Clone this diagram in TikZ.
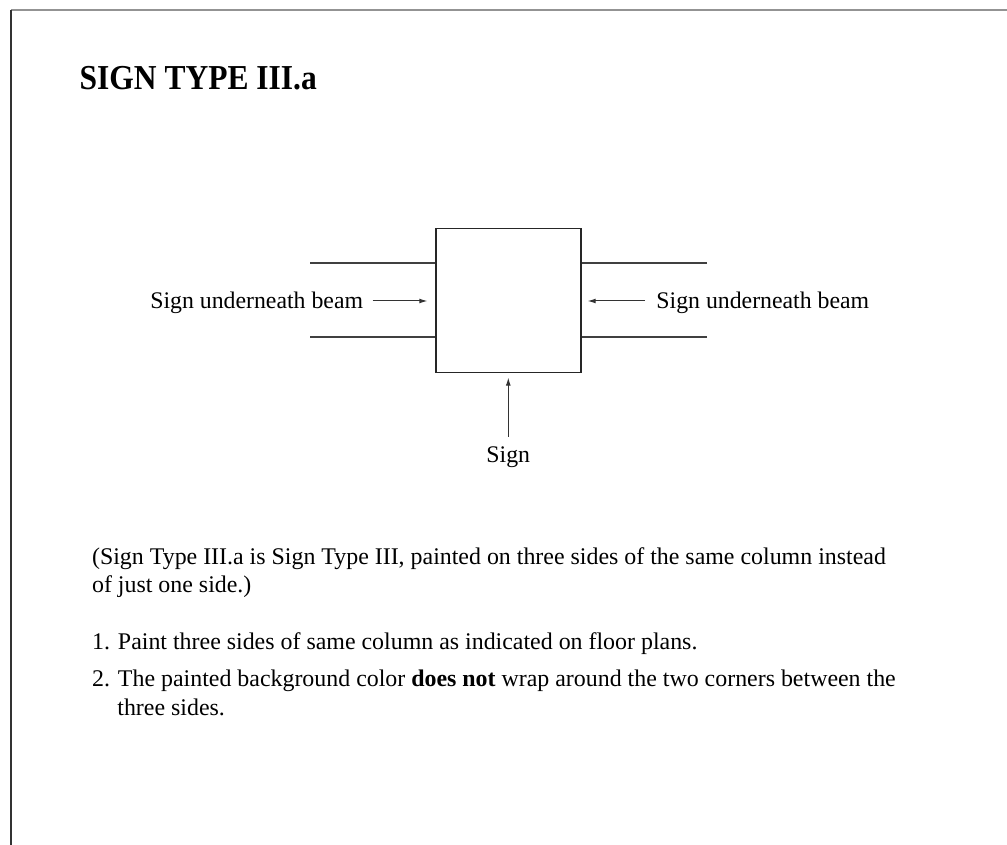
\documentclass[tikz,border=0pt]{standalone}
\usepackage{fontspec}
\setmainfont{Liberation Serif}
\usetikzlibrary{arrows.meta,positioning}

\begin{document}
\begin{tikzpicture}[x=0.5pt,y=-0.5pt,
  lbl/.style={font=\fontsize{11.9}{14}\selectfont,inner sep=0pt},
  txt/.style={font=\fontsize{11.95}{14}\selectfont,inner sep=0pt,anchor=base west},
  beam/.style={draw=black!75,line width=0.6pt},
  arr/.style={draw=black!80,line width=0.5pt,-{Latex[length=4pt,width=2.4pt]}}
]
\useasboundingbox (0,0) rectangle (1007,845);
% frame
\draw[gray!85,line width=1pt] (11,10.5) -- (1007,10.5);
\draw[black!80,line width=0.6pt] (11,10) -- (11,845);

\node[txt] (title) at (79.3,90) {\scalebox{0.9}[1]{\fontsize{17.5}{20}\selectfont\bfseries SIGN TYPE III.a}};

% column
\node[draw=black!85,line width=0.6pt,minimum width=72.5pt,minimum height=72pt,inner sep=0pt] (col) at (508.5,300.3) {};

% beams
\coordinate (bl1) at (310,263); \draw[beam] (bl1) -- (col.west |- bl1);
\coordinate (bl2) at (310,337); \draw[beam] (bl2) -- (col.west |- bl2);
\coordinate (br1) at (707,263); \draw[beam] (br1) -- (col.east |- br1);
\coordinate (br2) at (707,337); \draw[beam] (br2) -- (col.east |- br2);

% labels
\node[lbl,anchor=base east] (signL) at (363.5,309) {Sign underneath beam};
\coordinate (aL) at ([yshift=4pt]signL.base east);
\draw[arr,shorten <=4.5pt,shorten >=4pt] (aL) -- (col.west |- aL);
\node[lbl,anchor=base west] (signR) at (656,309) {Sign underneath beam};
\coordinate (aR) at ([yshift=4pt]signR.base west);
\draw[arr,shorten <=5.5pt,shorten >=3pt] (aR) -- (col.east |- aR);
\node[lbl,anchor=base] (sign) at (508.3,462) {Sign};
\draw[arr,shorten <=4.5pt,shorten >=2.3pt] (sign.north) -- (sign.north |- col.south);

% notes
\node[txt] (note1) at (91.7,564) {(Sign Type III.a is Sign Type III, painted on three sides of the same column instead};
\node[txt] (note2) at (91.7,592.5) {of just one side.)};
\node[txt] (item1) at (91.7,649.5) {1. Paint three sides of same column as indicated on floor plans.};
\node[txt] (item2) at (91.7,686) {2. The painted background color \textbf{does not} wrap around the two corners between the};
\node[txt] (item2b) at (117,715) {three sides.};
\end{tikzpicture}
\end{document}
